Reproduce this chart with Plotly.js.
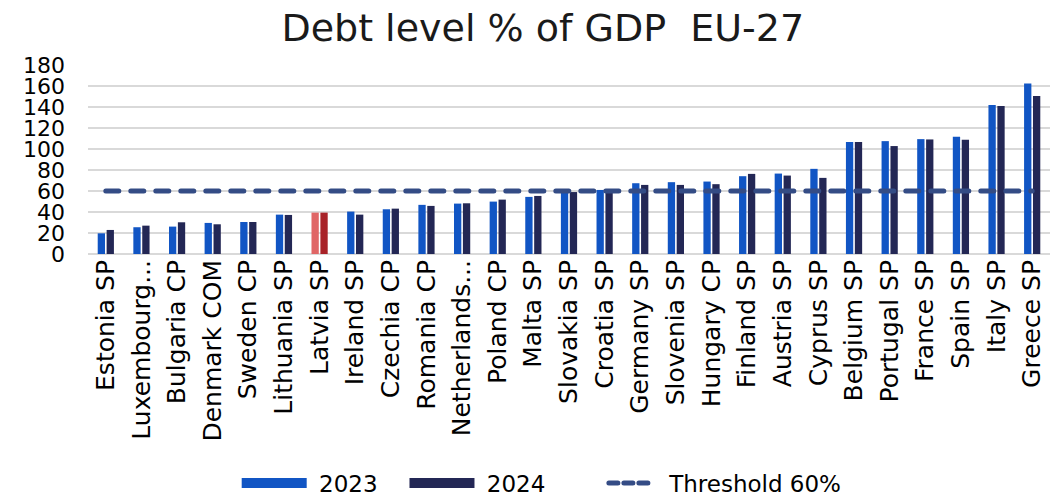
<!DOCTYPE html>
<html><head><meta charset="utf-8">
<script src="https://cdn.plot.ly/plotly-3.0.1.min.js"></script>
<style>body{margin:0;background:#fff}#chart{width:1058px;height:496px}
.scatterlayer path.js-line{stroke-linecap:round}
.legend .traces:nth-child(3) path.js-line{stroke-linecap:round;stroke-dashoffset:62px}</style>
</head><body><div id="chart"></div>
<script>
const categories = ["Estonia SP","Luxembourg...","Bulgaria CP","Denmark COM","Sweden CP","Lithuania SP","Latvia SP","Ireland SP","Czechia CP","Romania CP","Netherlands...","Poland CP","Malta SP","Slovakia SP","Croatia SP","Germany SP","Slovenia SP","Hungary CP","Finland SP","Austria SP","Cyprus SP","Belgium SP","Portugal SP","France SP","Spain SP","Italy SP","Greece SP"];
const debt2023 = [19.7,25.5,26.1,29.6,30.5,37.5,39.4,40.4,42.6,46.8,48.0,49.9,54.4,58.2,61.0,67.4,68.4,69.0,74.1,76.6,81.1,106.6,107.5,109.4,111.6,141.9,162.5];
const debt2024 = [22.9,27.0,30.2,28.3,30.5,37.2,39.4,37.5,43.2,45.8,48.3,51.8,55.3,59.0,59.2,65.8,65.8,66.5,76.3,74.7,72.5,106.6,102.8,109.1,108.8,140.9,150.5];
const threshold = categories.map(() => 60);
const highlight = "Latvia SP";
const seriesNames = ["2023", "2024", "Threshold 60%"];

const c23 = "#1155c4", c24 = "#232755", cThr = "#344c85";
const col23 = categories.map(c => c === highlight ? "#e06666" : c23);
const col24 = categories.map(c => c === highlight ? "#a82228" : c24);
const nb = n => "\u00a0".repeat(n);

const traces = [
  {type:"bar", x:categories, y:debt2023, name:seriesNames[0], marker:{color:col23}, showlegend:false},
  {type:"bar", x:categories, y:debt2024, name:seriesNames[1], marker:{color:col24}, showlegend:false},
  {type:"scatter", mode:"lines", x:categories, y:threshold, name:seriesNames[2], line:{color:cThr, width:5, dash:"13px,12px"}, showlegend:false},
  {type:"scatter", mode:"lines", x:[null], y:[null], name:nb(1)+seriesNames[0]+nb(3), line:{color:c23, width:13}},
  {type:"scatter", mode:"lines", x:[null], y:[null], name:nb(1)+seriesNames[1]+nb(5), line:{color:c24, width:13}},
  {type:"scatter", mode:"lines", x:[null], y:[null], name:nb(1)+seriesNames[2], line:{color:cThr, width:5, dash:"9px,6px,9px,6px,9px,40px"}}
];

const layout = {
  width:1058, height:496,
  margin:{l:88, r:8, t:65, b:242},
  paper_bgcolor:"#fff", plot_bgcolor:"#fff",
  font:{family:"DejaVu Sans, Verdana, sans-serif", color:"#000"},
  title:{text:"Debt level % of GDP  EU-27", font:{size:38, color:"#1a1a1a"}, x:0.513, xanchor:"center", y:0.945, yanchor:"middle"},
  barmode:"group", bargap:0.5, bargroupgap:0.18,
  xaxis:{type:"category", tickangle:-90, tickfont:{size:25}, showgrid:false, showline:false, ticks:"", automargin:false},
  yaxis:{range:[0,180], dtick:20, tickfont:{size:22}, gridcolor:"#d9d9d9", gridwidth:1.5, zeroline:true, zerolinecolor:"#d9d9d9", zerolinewidth:1.5, ticks:"", ticklen:0, ticklabelstandoff:22, automargin:false},
  showlegend:true,
  legend:{orientation:"h", x:0.512, xanchor:"center", xref:"container", yref:"container", y:0.026, yanchor:"middle", font:{size:23}, itemwidth:65, traceorder:"normal"}
};
Plotly.newPlot("chart", traces, layout, {displayModeBar:false, staticPlot:true});
</script></body></html>
